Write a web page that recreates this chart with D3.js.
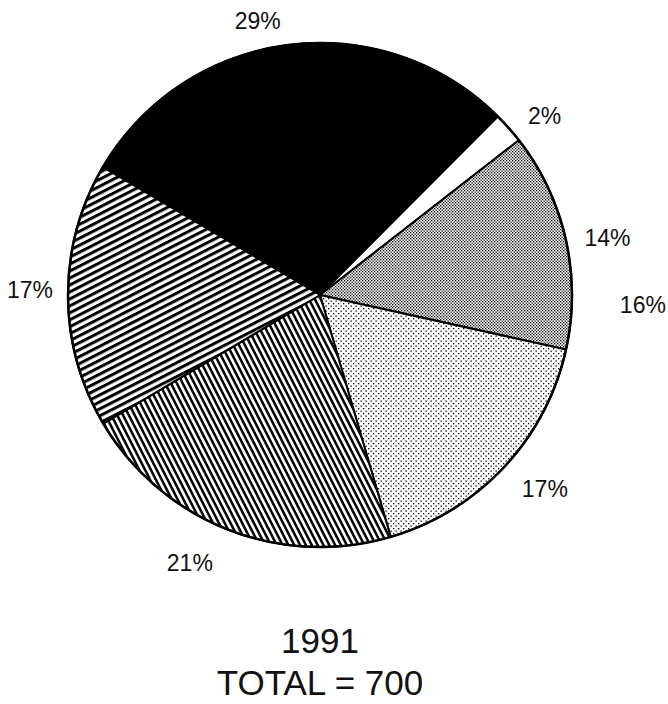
<!DOCTYPE html>
<html>
<head>
<meta charset="utf-8">
<script src="https://cdn.jsdelivr.net/npm/d3@7"></script>
<style>
  html, body { margin: 0; padding: 0; background: #fff; }
  svg { display: block; }
  text { font-family: "Liberation Sans", Arial, sans-serif; fill: #111; }
</style>
</head>
<body>
<div id="chart"></div>
<script>
// Pie chart of the 1991 share, one slice per group

// data (percent of total), clockwise from the black slice
const sliceNames = ["black", "blank", "dense dots", "light dots", "steep hatch", "flat hatch"];
const sliceValues = [29, 2, 14, 17, 21, 17];
const sliceLabels = ["29%", "2%", "14%", "17%", "21%", "17%"];

// bracket label for the blank + dense dots pair (2% + 14%)
const groupLabel = "16%";
const groupSlices = [1, 2];

const titleLines = ["1991", "TOTAL = 700"];

// layout
const width = 668, height = 704;
const cx = 320, cy = 295, radius = 252;
const startDeg = -59.5;
const labelRadius = 290;
// small per-label tweaks (degrees, px) so the text sits where the original put it
const labelTweak = [[-5.5, -9], [3, -3], [1.5, 3], [-2.3, 7], [4.4, 8], [1, 0]];

const svg = d3.select('#chart').append('svg')
    .attr('width', width)
    .attr('height', height);

const defs = svg.append('defs');

// hatch pattern helper: stripes of a given period, rotated
function hatch(id, period, thick, angle) {
    const p = defs.append('pattern')
        .attr('id', id)
        .attr('patternUnits', 'userSpaceOnUse')
        .attr('width', 12)
        .attr('height', period)
        .attr('patternTransform', `rotate(${angle})`);
    p.append('rect').attr('width', 12).attr('height', period).attr('fill', '#fff');
    p.append('rect').attr('width', 12).attr('height', thick).attr('fill', '#000');
}

// dot pattern helper
function dots(id, size, pts, r) {
    const p = defs.append('pattern')
        .attr('id', id)
        .attr('patternUnits', 'userSpaceOnUse')
        .attr('width', size)
        .attr('height', size);
    p.append('rect').attr('width', size).attr('height', size).attr('fill', '#fff');
    pts.forEach(([x, y]) => {
        p.append('rect')
            .attr('x', x).attr('y', y)
            .attr('width', r).attr('height', r)
            .attr('fill', '#000');
    });
}

hatch('flatHatch', 6.2, 3.0, -27);
hatch('steepHatch', 5.2, 2.5, 63);
dots('denseDots', 3, [[0, 0], [1.5, 1.5]], 1.3);
dots('lightDots', 5, [[0.5, 0.5], [3, 3]], 1.3);

const fills = {
    'black': '#000',
    'blank': '#fff',
    'dense dots': 'url(#denseDots)',
    'light dots': 'url(#lightDots)',
    'steep hatch': 'url(#steepHatch)',
    'flat hatch': 'url(#flatHatch)'
};

const rad = Math.PI / 180;
const pie = d3.pie()
    .sort(null)
    .startAngle(startDeg * rad)
    .endAngle((startDeg + 360) * rad)
    .value(d => d);

const arcs = pie(sliceValues);

const arc = d3.arc()
    .innerRadius(0)
    .outerRadius(radius);

const g = svg.append('g')
    .attr('transform', `translate(${cx},${cy})`);

g.selectAll('path.slice')
    .data(arcs)
    .enter()
    .append('path')
    .attr('class', 'slice')
    .attr('d', arc)
    .attr('fill', (d, i) => fills[sliceNames[i]])
    .attr('stroke', '#000')
    .attr('stroke-width', 2)
    .attr('stroke-linejoin', 'round');

// outer rim a touch heavier, like the print
g.append('circle')
    .attr('r', radius)
    .attr('fill', 'none')
    .attr('stroke', '#000')
    .attr('stroke-width', 2.5);

// percent labels around the pie
function polar(angle, r) {
    return [Math.sin(angle) * r, -Math.cos(angle) * r];
}

g.selectAll('text.pct')
    .data(arcs)
    .enter()
    .append('text')
    .attr('class', 'pct')
    .attr('transform', (d, i) => {
        const mid = (d.startAngle + d.endAngle) / 2 + labelTweak[i][0] * rad;
        const [x, y] = polar(mid, labelRadius + labelTweak[i][1]);
        return `translate(${x},${y})`;
    })
    .attr('text-anchor', 'middle')
    .attr('dominant-baseline', 'central')
    .attr('font-size', '23px')
    .text((d, i) => sliceLabels[i]);

// the 16% bracket label sits further out, past the two right slices
const grpStart = arcs[groupSlices[0]].startAngle;
const grpEnd = arcs[groupSlices[groupSlices.length - 1]].endAngle;
const grpPos = polar((grpStart + grpEnd) / 2 + 18 * rad, labelRadius + 33);
g.append('text')
    .attr('transform', `translate(${grpPos[0]},${grpPos[1]})`)
    .attr('text-anchor', 'middle')
    .attr('dominant-baseline', 'central')
    .attr('font-size', '23px')
    .text(groupLabel);

// title under the pie
svg.selectAll('text.title')
    .data(titleLines)
    .enter()
    .append('text')
    .attr('class', 'title')
    .attr('x', cx)
    .attr('y', (d, i) => 653 + i * 42)
    .attr('text-anchor', 'middle')
    .attr('font-size', '35px')
    .text(d => d);
</script>
</body>
</html>
